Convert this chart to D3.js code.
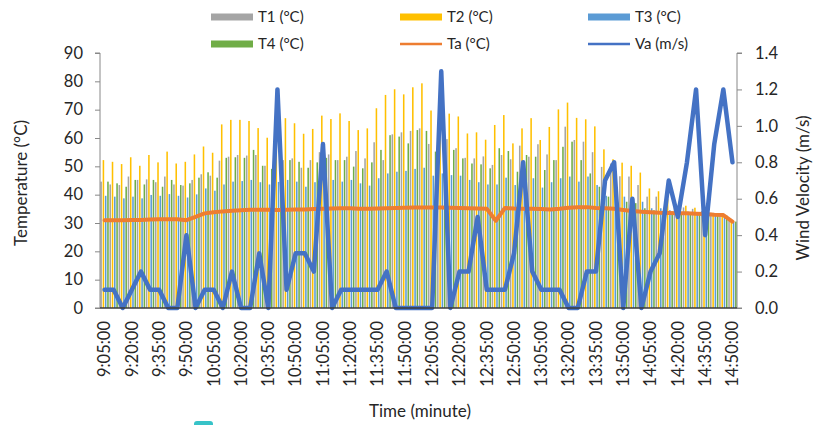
<!DOCTYPE html>
<html>
<head>
<meta charset="utf-8">
<script src="https://cdn.jsdelivr.net/npm/d3@7"></script>
<style>
  html, body { margin: 0; padding: 0; background: #fff; }
  svg { display: block; }
  text { font-family: Lato, "Open Sans", sans-serif; fill: #262626; }
</style>
</head>
<body>
<svg id="chart" width="830" height="425"></svg>
<script>
const times = ["9:05:00","9:10:00","9:15:00","9:20:00","9:25:00","9:30:00","9:35:00","9:40:00","9:45:00","9:50:00","9:55:00",
"10:00:00","10:05:00","10:10:00","10:15:00","10:20:00","10:25:00","10:30:00","10:35:00","10:40:00","10:45:00","10:50:00","10:55:00",
"11:00:00","11:05:00","11:10:00","11:15:00","11:20:00","11:25:00","11:30:00","11:35:00","11:40:00","11:45:00","11:50:00","11:55:00",
"12:00:00","12:05:00","12:10:00","12:15:00","12:20:00","12:25:00","12:30:00","12:35:00","12:40:00","12:45:00","12:50:00","12:55:00",
"13:00:00","13:05:00","13:10:00","13:15:00","13:20:00","13:25:00","13:30:00","13:35:00","13:40:00","13:45:00","13:50:00","13:55:00",
"14:00:00","14:05:00","14:10:00","14:15:00","14:20:00","14:25:00","14:30:00","14:35:00","14:40:00","14:45:00","14:50:00"];

const xTickLabels = ["9:05:00","9:20:00","9:35:00","9:50:00","10:05:00","10:20:00","10:35:00","10:50:00","11:05:00","11:20:00","11:35:00","11:50:00",
"12:05:00","12:20:00","12:35:00","12:50:00","13:05:00","13:20:00","13:35:00","13:50:00","14:05:00","14:20:00","14:35:00","14:50:00"];

const T1 = [44.6,43.6,43.4,46.4,45.2,45.4,44.4,46.4,43.6,43.2,45.2,47.2,46.7,52,53.4,54,53.8,54,50.2,52,52.2,52.8,49.5,52.2,55,54.2,52.2,53.4,55.4,52.8,58.5,52.2,61.3,62,62.5,63.4,57.9,60,59.6,56.4,53,52.8,53.5,50.5,54,52.5,57.3,53.4,57.8,54.2,52.2,64,59.3,58.7,55,49.8,51,46.5,46.4,43.4,39.3,39.3,36.4,35.5,35.5,35,34.2,33.6,33,31];
const T2 = [52.2,51.6,50.8,53.2,50.2,54,51.4,55.2,51,51.6,54.2,57,54.8,64.8,66.4,66.4,66,63.5,60.1,65,67,65.2,61.5,63.2,67.9,66.7,68.7,66,62.8,63.4,70.5,75.2,77.2,75.4,77.9,79.3,69.7,72,68.6,67.6,61.6,62,59.4,64.6,68.1,58.1,63.4,67,59.3,63.9,70.1,72.5,67.1,66.6,64.1,56,52.5,51.3,50.2,47.8,42.2,41.2,38.5,36,36.1,35.4,34,33.4,32.8,30.7];
const T3 = [39.6,39.3,38.7,39.3,38.7,39.9,39.6,40.2,39.6,39,40.1,42.2,41.4,43.6,44.6,44.8,45.2,44.4,43.6,44.5,45.2,44.6,42.8,44.4,45,45.2,44.6,45.2,44,43.2,45.8,47.5,48.1,48.4,49.1,49.5,46.7,47.5,46.9,46.7,45.2,44.4,43.6,43.6,46,43.4,45,45.8,42.5,44.4,45.8,46.4,44.6,46.4,43.4,39.6,41.4,39.3,38.5,37.5,35.2,35.2,34.5,34,34,33.8,33.4,33,32.6,30.5];
const T4 = [44.6,44,42.8,45.2,43.6,45.2,42.8,45.2,43.4,44,46,47.9,46,53,53.2,53,55.8,50.2,49.1,52,52.2,51.6,49.5,51.4,53,52.2,52.2,49.9,49.3,51.4,55.8,61,60.5,58.1,62.8,62.5,55.2,57,55.8,52.8,51,50.7,49.3,56.4,55.4,48.1,54,53.4,48.7,52.2,56.9,58.7,52.2,47.5,42.8,39.3,37.5,37.5,37,35.2,34.5,34.3,34,33.8,33.6,33.4,33.2,33,32.6,30.5];
const Ta = [31,31,31,31.1,31.1,31.2,31.3,31.3,31.3,31,32.2,33.4,33.8,34.1,34.3,34.5,34.7,34.7,34.7,34.6,34.7,34.8,34.8,34.9,35,35.1,35.2,35.2,35,35,35.1,35.2,35.3,35.4,35.5,35.5,35.5,35.5,35.4,35.3,35.2,35.1,35,30.8,35.3,35.1,35,35,34.9,34.8,35,35.4,35.6,35.6,35.3,35.2,35,34.6,34.2,34,33.8,33.6,33.5,33.4,33.4,33.3,33.2,32.9,32.8,30.5];
const Va = [0.1,0.1,0,0.1,0.2,0.1,0.1,0,0,0.4,0,0.1,0.1,0,0.2,0,0,0.3,0,1.2,0.1,0.3,0.3,0.2,0.9,0,0.1,0.1,0.1,0.1,0.1,0.2,0,0,0,0,0,1.3,0,0.2,0.2,0.5,0.1,0.1,0.1,0.3,0.8,0.2,0.1,0.1,0.1,0,0,0.2,0.2,0.7,0.8,0,0.6,0,0.2,0.3,0.7,0.5,0.8,1.2,0.4,0.9,1.2,0.8];

const tempTicks = [0,10,20,30,40,50,60,70,80,90];
const windTicks = [0,0.2,0.4,0.6,0.8,1.0,1.2,1.4];

const barSeries = [
  {name: "T1 (°C)", values: T1, color: "#A5A5A5"},
  {name: "T2 (°C)", values: T2, color: "#FFC000"},
  {name: "T3 (°C)", values: T3, color: "#5B9BD5"},
  {name: "T4 (°C)", values: T4, color: "#70AD47"}
];
const lineTa = {name: "Ta (°C)", values: Ta, color: "#ED7D31"};
const lineVa = {name: "Va (m/s)", values: Va, color: "#4472C4"};

const svg = d3.select("#chart");
const L = 100, R = 737, T = 53, B = 308;

const x0 = d3.scaleBand().domain(times).range([L, R]).paddingInner(0.08).paddingOuter(0.04);
const x1 = d3.scaleBand().domain(barSeries.map(s => s.name)).range([0, x0.bandwidth()]).paddingInner(0.32);
const yL = d3.scaleLinear().domain([0, 90]).range([B, T]);
const yR = d3.scaleLinear().domain([0, 1.4]).range([B, T]);

// bars
barSeries.forEach(s => {
  svg.append("g").selectAll("rect").data(times).join("rect")
    .attr("x", (t) => x0(t) + x1(s.name))
    .attr("width", x1.bandwidth())
    .attr("y", (t, i) => yL(s.values[i]))
    .attr("height", (t, i) => B - yL(s.values[i]))
    .attr("fill", s.color);
});

const cx = t => x0(t) + x0.bandwidth() / 2;

// Ta line
svg.append("path")
  .attr("d", d3.line().x((d, i) => cx(times[i])).y(d => yL(d))(Ta))
  .attr("fill", "none").attr("stroke", lineTa.color).attr("stroke-width", 4)
  .attr("stroke-linejoin", "round").attr("stroke-linecap", "round");

// Va line
svg.append("path")
  .attr("d", d3.line().x((d, i) => cx(times[i])).y(d => yR(d))(Va))
  .attr("fill", "none").attr("stroke", lineVa.color).attr("stroke-width", 4.5)
  .attr("stroke-linejoin", "round").attr("stroke-linecap", "round");

// Left axis
const gL = svg.append("g").attr("transform", `translate(${L},0)`)
  .call(d3.axisLeft(yL).tickValues(tempTicks).tickSize(5).tickPadding(12).tickFormat(d3.format("d")));
gL.select(".domain").attr("stroke", "#888").attr("d", `M-5,${T}H0V${B}H-5`);
gL.selectAll(".tick line").attr("stroke", "#888");
gL.selectAll(".tick text").style("font-size", "16.5px").attr("fill", "#262626");

// Right axis
const gR = svg.append("g").attr("transform", `translate(${R},0)`)
  .call(d3.axisRight(yR).tickValues(windTicks).tickSize(5).tickPadding(13).tickFormat(d3.format(".1f")));
gR.select(".domain").attr("stroke", "#888").attr("d", `M5,${T}H0V${B}H5`);
gR.selectAll(".tick line").attr("stroke", "#888");
gR.selectAll(".tick text").style("font-size", "16.5px").attr("fill", "#262626");

// Bottom axis
const gB = svg.append("g").attr("transform", `translate(0,${B})`)
  .call(d3.axisBottom(x0).tickValues(xTickLabels).tickSize(0).tickPadding(0));
gB.select(".domain").attr("stroke", "#3a3a3a").attr("stroke-width", 1.4).attr("d", `M${L},0H${R}`);
gB.selectAll(".tick text")
  .style("font-size", "16.5px").attr("fill", "#262626")
  .attr("text-anchor", "end")
  .attr("transform", "rotate(-90)")
  .attr("x", -13).attr("y", 0).attr("dy", "0.35em");

// Axis titles
svg.append("text").attr("transform", "translate(27,183) rotate(-90)")
  .attr("text-anchor", "middle").style("font-size", "17px").text("Temperature (°C)");
svg.append("text").attr("transform", "translate(809,188) rotate(-90)")
  .attr("text-anchor", "middle").style("font-size", "17px").text("Wind Velocity (m/s)");
svg.append("text").attr("x", 420).attr("y", 417)
  .attr("text-anchor", "middle").style("font-size", "17px").text("Time (minute)");

// Legend
const legendItems = [
  {s: barSeries[0], type: "bar", x: 211, y: 17},
  {s: barSeries[1], type: "bar", x: 400, y: 17},
  {s: barSeries[2], type: "bar", x: 588, y: 17},
  {s: barSeries[3], type: "bar", x: 211, y: 44},
  {s: lineTa, type: "line", x: 400, y: 44},
  {s: lineVa, type: "line", x: 588, y: 44}
];
const lg = svg.append("g");
legendItems.forEach(it => {
  if (it.type === "bar") {
    lg.append("rect").attr("x", it.x).attr("y", it.y - 3.5).attr("width", 42).attr("height", 7).attr("fill", it.s.color);
  } else {
    lg.append("line").attr("x1", it.x).attr("x2", it.x + 42).attr("y1", it.y).attr("y2", it.y)
      .attr("stroke", it.s.color).attr("stroke-width", 2.5);
  }
  lg.append("text").attr("x", it.x + 47).attr("y", it.y).attr("dy", "0.35em")
    .style("font-size", "15px").text(it.s.name);
});

// small teal artifact at the bottom edge
svg.append("rect").attr("x", 194).attr("y", 421).attr("width", 19).attr("height", 8).attr("rx", 3).attr("fill", "#37C3C8");
</script>
</body>
</html>
